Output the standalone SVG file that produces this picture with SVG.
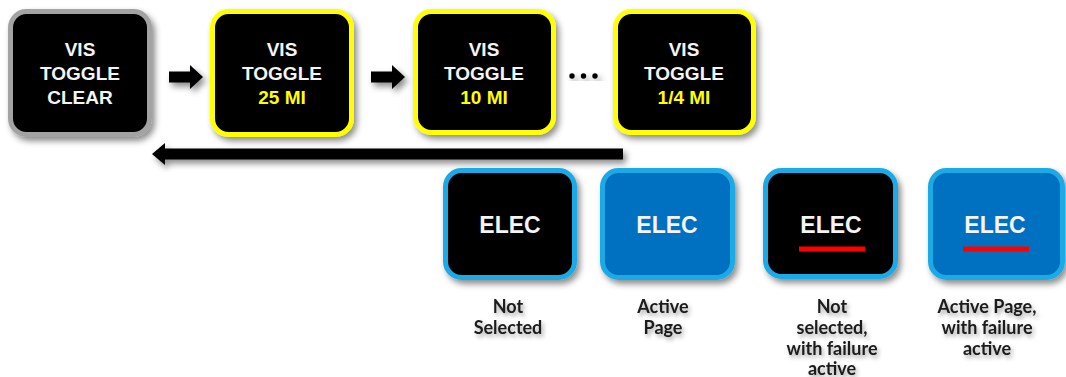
<svg xmlns="http://www.w3.org/2000/svg" width="1066" height="377" viewBox="0 0 1066 377">
<defs>
<filter id="sh" x="-20%" y="-20%" width="150%" height="150%">
<feDropShadow dx="3" dy="4" stdDeviation="3" flood-color="#000" flood-opacity="0.45"/>
</filter>
<filter id="tsh" x="-20%" y="-30%" width="140%" height="180%">
<feDropShadow dx="2" dy="3" stdDeviation="2" flood-color="#000" flood-opacity="0.35"/>
</filter>
<style>
.box{fill:#000;stroke-width:5;filter:url(#sh)}
.gray{stroke:#a3a3a3}
.yel{stroke:#ffff00}
.cyan{stroke:#1faae6}
.blue{fill:#0070c0}
.t{font-family:"Liberation Sans",Arial,sans-serif;font-weight:bold;font-size:19px;fill:#f4f4f4;text-anchor:middle}
.ty{fill:#ffff00}
.e{font-family:"Liberation Sans",Arial,sans-serif;font-weight:bold;font-size:23px;fill:#f4f4f4;text-anchor:middle}
.lbl{font-family:Lato,"Open Sans",sans-serif;font-size:18px;font-weight:bold;fill:#1a1a1a;text-anchor:middle;filter:url(#tsh)}
.red{fill:#ff0000}
.arr{fill:#000;filter:url(#sh)}
</style>
</defs>

<g id="vis-clear">
<rect class="box gray" x="10.5" y="11.5" width="139" height="123" rx="16"/>
<text class="t" x="80" y="56">VIS</text>
<text class="t" x="80" y="80">TOGGLE</text>
<text class="t" x="80" y="104">CLEAR</text>
</g>
<g id="vis-25">
<rect class="box yel" x="212.5" y="11.5" width="139" height="123" rx="16"/>
<text class="t" x="282" y="56">VIS</text>
<text class="t" x="282" y="80">TOGGLE</text>
<text class="t ty" x="282" y="104">25 MI</text>
</g>
<g id="vis-10">
<rect class="box yel" x="415.5" y="11.5" width="138" height="121" rx="16"/>
<text class="t" x="484" y="56">VIS</text>
<text class="t" x="484" y="80">TOGGLE</text>
<text class="t ty" x="484" y="104">10 MI</text>
</g>
<g id="vis-quarter">
<rect class="box yel" x="615.5" y="11.5" width="138" height="121" rx="16"/>
<text class="t" x="684" y="56">VIS</text>
<text class="t" x="684" y="80">TOGGLE</text>
<text class="t ty" x="684" y="104">1/4 MI</text>
</g>

<g id="connectors">
<polygon class="arr" points="169,71.5 190,71.5 190,65 203,77 190,89 190,82.5 169,82.5"/>
<polygon class="arr" points="371,71.5 392,71.5 392,65 405,77 392,89 392,82.5 371,82.5"/>
<g id="ellipsis" filter="url(#sh)">
<circle cx="572" cy="76" r="2.7"/>
<circle cx="583.5" cy="76" r="2.7"/>
<circle cx="595" cy="76" r="2.7"/>
</g>
<polygon class="arr" points="623,148.5 165,148.5 165,143 152,154 165,165 165,159.5 623,159.5"/>
</g>

<g id="elec-not-selected">
<rect class="box cyan" x="445.5" y="170.5" width="129" height="107" rx="16"/>
<text class="e" x="510" y="233">ELEC</text>
<text class="lbl" x="508" y="313">Not</text>
<text class="lbl" x="508" y="334">Selected</text>
</g>
<g id="elec-active">
<rect class="box cyan blue" x="602.5" y="170.5" width="130" height="107" rx="16"/>
<text class="e" x="667" y="233">ELEC</text>
<text class="lbl" x="663" y="313">Active</text>
<text class="lbl" x="663" y="334">Page</text>
</g>
<g id="elec-not-selected-failure">
<rect class="box cyan" x="765.5" y="170.5" width="130" height="106" rx="16"/>
<text class="e" x="831" y="233">ELEC</text>
<rect class="red" x="799" y="246.5" width="66" height="5"/>
<text class="lbl" x="832" y="313">Not</text>
<text class="lbl" x="832" y="334">selected,</text>
<text class="lbl" x="832" y="355">with failure</text>
<text class="lbl" x="832" y="375">active</text>
</g>
<g id="elec-active-failure">
<rect class="box cyan blue" x="930.5" y="170.5" width="132" height="107" rx="16"/>
<text class="e" x="995" y="233">ELEC</text>
<rect class="red" x="963" y="246.5" width="66" height="5"/>
<text class="lbl" x="987" y="313">Active Page,</text>
<text class="lbl" x="987" y="334">with failure</text>
<text class="lbl" x="987" y="355">active</text>
</g>
</svg>
